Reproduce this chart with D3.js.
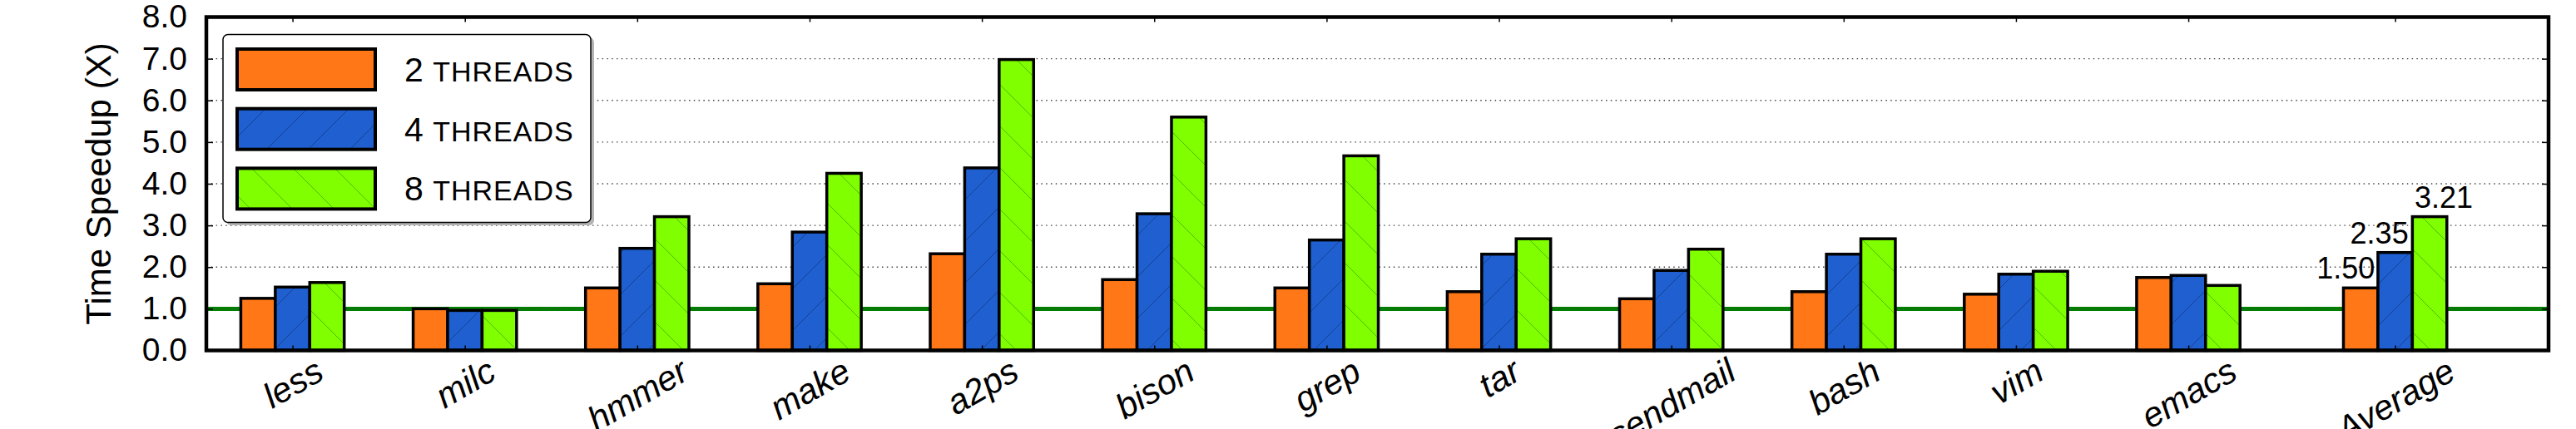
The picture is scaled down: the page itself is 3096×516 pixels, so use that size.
<!DOCTYPE html>
<html>
<head>
<meta charset="utf-8">
<script src="https://cdn.jsdelivr.net/npm/d3@7"></script>
<style>
  body { margin: 0; background: #fff; }
  text { font-family: "Liberation Sans", Arial, sans-serif; }
</style>
</head>
<body>
<svg id="chart" width="3096" height="516"></svg>
<script>
// data
var benchmarks = ["less", "milc", "hmmer", "make", "a2ps", "bison", "grep", "tar", "sendmail", "bash", "vim", "emacs", "Average"];
var threads = [2, 4, 8];
var speedup2 = [1.25, 1.00, 1.50, 1.60, 2.32, 1.70, 1.50, 1.41, 1.24, 1.41, 1.35, 1.75, 1.50];
var speedup4 = [1.52, 0.96, 2.45, 2.84, 4.38, 3.28, 2.65, 2.31, 1.92, 2.31, 1.83, 1.80, 2.35];
var speedup8 = [1.63, 0.96, 3.21, 4.25, 6.98, 5.60, 4.67, 2.68, 2.43, 2.68, 1.90, 1.56, 3.21];
var yTicks = [0, 1, 2, 3, 4, 5, 6, 7, 8];
var baseline = 1.0;

var colors = ["#ff7716", "#1f5fd0", "#7fff00"];
var hatchDir = [null, "/", "\\"];

var svg = d3.select("#chart");
var pL = 248, pR = 3063, pT = 20.5, pB = 421.5;

// Average sits a bit apart from the other groups
var pos = benchmarks.map(function(d, i) { return d === "Average" ? i + 0.2 : i; });

var x = d3.scaleLinear().domain([-0.5, 13.09]).range([pL, pR]);
var y = d3.scaleLinear().domain([0, 8]).range([pB, pT]);
var barW = 0.2;

var series = [speedup2, speedup4, speedup8].map(function(vals, j) {
  return vals.map(function(v, i) { return {bench: benchmarks[i], p: pos[i], v: v, j: j}; });
});

// hatch patterns
var defs = svg.append("defs");
colors.forEach(function(c, j) {
  var pat = defs.append("pattern")
    .attr("id", "hatch" + j)
    .attr("patternUnits", "userSpaceOnUse")
    .attr("width", 50).attr("height", 50);
  pat.append("rect").attr("width", 50).attr("height", 50).attr("fill", c);
  if (hatchDir[j] === "/") {
    pat.append("path").attr("d", "M0,50L50,0M-5,5L5,-5M45,55L55,45")
      .attr("stroke", "rgba(0,0,0,0.3)").attr("stroke-width", 1);
  } else if (hatchDir[j] === "\\") {
    pat.append("path").attr("d", "M0,0L50,50M-5,45L5,55M45,-5L55,5")
      .attr("stroke", "rgba(0,60,0,0.35)").attr("stroke-width", 1);
  }
});

// reference line at 1.0
svg.append("line")
  .attr("x1", pL).attr("x2", pR)
  .attr("y1", y(baseline)).attr("y2", y(baseline))
  .attr("stroke", "#008000").attr("stroke-width", 5);

// dotted grid
svg.append("g").selectAll("line")
  .data(yTicks.filter(function(d) { return d > 0 && d < 8; }))
  .enter().append("line")
  .attr("x1", pL).attr("x2", pR)
  .attr("y1", function(d) { return y(d); }).attr("y2", function(d) { return y(d); })
  .attr("stroke", "#444").attr("stroke-width", 1.3)
  .attr("stroke-dasharray", "1.5,4.3");

// legend
var lg = svg.append("g");
lg.append("rect").attr("x", 272).attr("y", 45).attr("width", 442).attr("height", 226)
  .attr("rx", 6).attr("fill", "#b3b3b3");
lg.append("rect").attr("x", 268).attr("y", 41.5).attr("width", 442).attr("height", 226)
  .attr("rx", 6).attr("fill", "#fff").attr("stroke", "#000").attr("stroke-width", 1.5);
threads.forEach(function(t, j) {
  var cy = 83.5 + j * 71.7;
  lg.append("rect").attr("x", 285).attr("y", cy - 24.5).attr("width", 166).attr("height", 49)
    .attr("fill", "url(#hatch" + j + ")").attr("stroke", "#000").attr("stroke-width", 4);
  var tx = lg.append("text").attr("x", 486).attr("y", cy + 14.5).attr("fill", "#000");
  tx.append("tspan").attr("font-size", 41).text(t + " ");
  tx.append("tspan").attr("font-size", 34).attr("letter-spacing", 1).text("THREADS");
});

// bars
series.forEach(function(s, j) {
  svg.append("g").selectAll("rect")
    .data(s).enter().append("rect")
    .attr("x", function(d) { return x(d.p + (d.j - 1.5) * barW); })
    .attr("width", x(barW) - x(0))
    .attr("y", function(d) { return y(d.v); })
    .attr("height", function(d) { return y(0) - y(d.v); })
    .attr("fill", "url(#hatch" + j + ")")
    .attr("stroke", "#000").attr("stroke-width", 3.5);
});

// value labels for Average
var avgIdx = benchmarks.indexOf("Average");
var avgDx = [-18, -19, 17];
series.forEach(function(s, j) {
  var d = s[avgIdx];
  svg.append("text")
    .attr("x", x(d.p + (d.j - 1) * barW) + avgDx[j])
    .attr("y", y(d.v) - 11)
    .attr("text-anchor", "middle")
    .attr("font-size", 36)
    .text(d3.format(".2f")(d.v));
});

// axes
var ayL = svg.append("g").attr("transform", "translate(" + pL + ",0)")
  .call(d3.axisLeft(y).tickValues(yTicks).tickFormat(d3.format(".1f")).tickSizeInner(-8).tickSizeOuter(0).tickPadding(23));
ayL.selectAll("text").attr("font-size", 39).attr("fill", "#000");
var ayR = svg.append("g").attr("transform", "translate(" + pR + ",0)")
  .call(d3.axisRight(y).tickValues(yTicks).tickFormat("").tickSizeInner(-8).tickSizeOuter(0));
var axT = svg.append("g").attr("transform", "translate(0," + pT + ")")
  .call(d3.axisTop(x).tickValues(pos).tickFormat("").tickSizeInner(-6).tickSizeOuter(0));
var axB = svg.append("g").attr("transform", "translate(0," + pB + ")")
  .call(d3.axisBottom(x).tickValues(pos).tickFormat(function(d, i) { return benchmarks[i]; }).tickSizeInner(-6).tickSizeOuter(0));
[ayL, ayR, axT, axB].forEach(function(a) {
  a.select(".domain").remove();
  a.selectAll("line").attr("stroke", "#000").attr("stroke-width", 1.5);
});

// rotated, italic category labels centred under each tick
axB.selectAll("text")
  .attr("font-size", 42)
  .attr("font-style", "italic")
  .attr("fill", "#000")
  .attr("text-anchor", "middle")
  .attr("dominant-baseline", "central")
  .attr("dy", null)
  .attr("y", null)
  .each(function() {
    var t = d3.select(this);
    var w = this.getComputedTextLength();
    var h = 42;
    var cy = (424 - pB) + (w * 0.5 + h * 0.866) / 2;
    t.attr("transform", "translate(0," + cy + ") rotate(-30)");
  });

// frame
svg.append("rect")
  .attr("x", pL).attr("y", pT)
  .attr("width", pR - pL).attr("height", pB - pT)
  .attr("fill", "none").attr("stroke", "#000").attr("stroke-width", 4.5);

// y label
svg.append("text")
  .attr("transform", "translate(118," + ((pT + pB) / 2) + ") rotate(-90)")
  .attr("text-anchor", "middle")
  .attr("dominant-baseline", "central")
  .attr("font-size", 42)
  .text("Time Speedup (X)");
</script>
</body>
</html>
